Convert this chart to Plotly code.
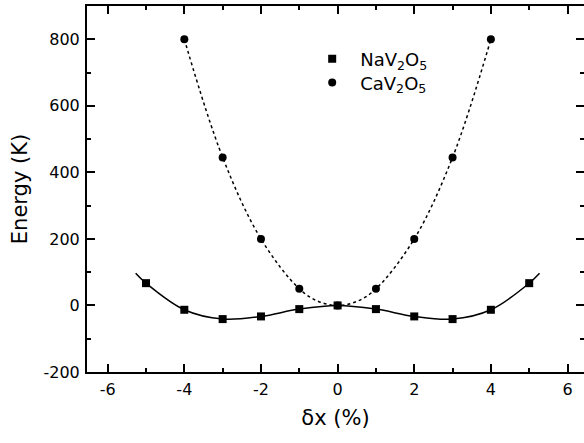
import plotly.graph_objects as go

# Data
na_x = [-5, -4, -3, -2, -1, 0, 1, 2, 3, 4, 5]
na_y = [67, -13, -41, -33, -11, 0, -11, -33, -41, -13, 67]

ca_x = [-4, -3, -2, -1, 0, 1, 2, 3, 4]
ca_y = [800, 445, 200, 50, 0, 50, 200, 445, 800]

# fit curves
na_fit_x = [-5.27, -5, -4, -3, -2, -1, 0, 1, 2, 3, 4, 5, 5.27]
na_fit_y = [97, 67, -13, -41, -33, -11, 0, -11, -33, -41, -13, 67, 97]
ca_fit_x = [-4, -3, -2, -1, -0.5, 0, 0.5, 1, 2, 3, 4]
ca_fit_y = [800, 445, 200, 50, 12, 0, 12, 50, 200, 445, 800]

x_ticks = [-6, -4, -2, 0, 2, 4, 6]
x_ticktext = ["-6", "-4", "-2", "0", "2", "4", "6"]
y_ticks = [-200, 0, 200, 400, 600, 800]
y_ticktext = ["-200", "0", "200", "400", "600", "800"]

FONT = "DejaVu Sans, Liberation Sans, Arial, sans-serif"

fig = go.Figure()

fig.add_trace(go.Scatter(x=na_fit_x, y=na_fit_y, mode="lines",
                         line=dict(color="black", width=1.5, shape="spline", smoothing=1.0),
                         showlegend=False, hoverinfo="skip"))
fig.add_trace(go.Scatter(x=ca_fit_x, y=ca_fit_y, mode="lines",
                         line=dict(color="black", width=1.5, dash="dot", shape="spline", smoothing=1.0),
                         showlegend=False, hoverinfo="skip"))
fig.add_trace(go.Scatter(x=ca_x, y=ca_y, mode="markers", name="CaV<sub>2</sub>O<sub>5</sub>",
                         marker=dict(symbol="circle", size=8, color="black"), legend="legend2"))
fig.add_trace(go.Scatter(x=na_x, y=na_y, mode="markers", name="NaV<sub>2</sub>O<sub>5</sub>",
                         marker=dict(symbol="square", size=8, color="black"), legend="legend"))
# invisible trace to hold the mirror axes
fig.add_trace(go.Scatter(x=na_x, y=na_y, xaxis="x2", yaxis="y2", mode="markers",
                         marker=dict(opacity=0), showlegend=False, hoverinfo="skip"))

common = dict(ticks="inside", ticklen=8, tickwidth=1.5, tickcolor="black",
              showline=True, linewidth=2, linecolor="black",
              showgrid=False, zeroline=False, automargin=False,
              tickfont=dict(family=FONT, size=16, color="black"))

xr = [-6.54, 6.43]
yr = [-200, 900]

minor_x = dict(dtick=1, ticklen=4, tickwidth=1.5, ticks="inside", tickcolor="black")
minor_y = dict(dtick=100, ticklen=4, tickwidth=1.5, ticks="inside", tickcolor="black")

legend_common = dict(xanchor="left", yanchor="middle", bgcolor="rgba(0,0,0,0)",
                     font=dict(family=FONT, size=18), itemwidth=46)

fig.update_layout(
    width=584, height=443,
    margin=dict(l=87, r=0, t=6, b=71),
    plot_bgcolor="white", paper_bgcolor="white",
    font=dict(family=FONT, color="black"),
    xaxis=dict(range=xr, tickmode="array", tickvals=x_ticks, ticktext=x_ticktext,
               minor=minor_x, ticklabelstandoff=2,
               title=dict(text="δx (%)", font=dict(family=FONT, size=21), standoff=12),
               **common),
    yaxis=dict(range=yr, tickmode="array", tickvals=y_ticks, ticktext=y_ticktext,
               minor=minor_y, ticklabelstandoff=2,
               title=dict(text="Energy (K)", font=dict(family=FONT, size=21), standoff=10),
               **common),
    xaxis2=dict(range=xr, overlaying="x", side="top", anchor="y2", matches="x",
                tickmode="array", tickvals=x_ticks, showticklabels=False, minor=minor_x,
                ticks="inside", ticklen=8, tickwidth=1.5, tickcolor="black", automargin=False,
                showline=True, linewidth=2, linecolor="black", showgrid=False, zeroline=False),
    yaxis2=dict(range=yr, overlaying="y", side="right", anchor="x2", matches="y",
                tickmode="array", tickvals=y_ticks, showticklabels=False, minor=minor_y,
                ticks="inside", ticklen=8, tickwidth=1.5, tickcolor="black", automargin=False,
                showline=False, showgrid=False, zeroline=False),
    legend=dict(x=0.437, y=0.855, **legend_common),
    legend2=dict(x=0.437, y=0.79, **legend_common),
)

fig.write_html("out.html", config={"displayModeBar": False},
               post_script="document.body.style.margin='0';")
